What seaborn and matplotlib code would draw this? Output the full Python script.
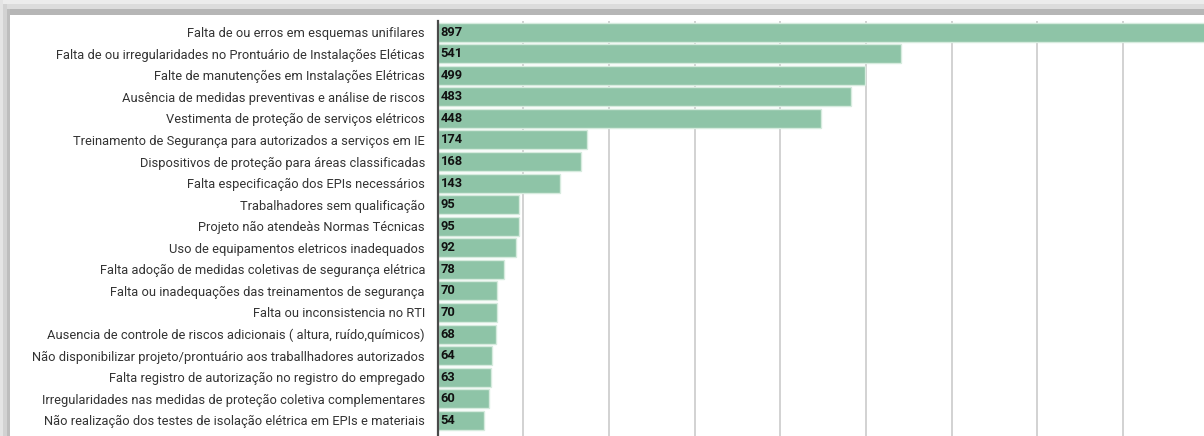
import matplotlib
matplotlib.use("Agg")
import matplotlib.pyplot as plt
import matplotlib.transforms as mtransforms
from matplotlib.patches import Rectangle
import seaborn as sns
import pandas as pd

categories = [
    "Falta de ou erros em esquemas unifilares",
    "Falta de ou irregularidades no Prontuário de Instalações Eléticas",
    "Falte de manutenções em Instalações Elétricas",
    "Ausência de medidas preventivas e análise de riscos",
    "Vestimenta de proteção de serviços elétricos",
    "Treinamento de Segurança para autorizados a serviços em IE",
    "Dispositivos de proteção para áreas classificadas",
    "Falta especificação dos EPIs necessários",
    "Trabalhadores sem qualificação",
    "Projeto não atendeàs Normas Técnicas",
    "Uso de equipamentos eletricos inadequados",
    "Falta adoção de medidas coletivas de segurança elétrica",
    "Falta ou inadequações das treinamentos de segurança",
    "Falta ou inconsistencia no RTI",
    "Ausencia de controle de riscos adicionais ( altura, ruído,químicos)",
    "Não disponibilizar projeto/prontuário aos traballhadores autorizados",
    "Falta registro de autorização no registro do empregado",
    "Irregularidades nas medidas de proteção coletiva complementares",
    "Não realização dos testes de isolação elétrica em EPIs e materiais",
]
values = [897, 541, 499, 483, 448, 174, 168, 143, 95, 95, 92, 78, 70, 70, 68, 64, 63, 60, 54]

sns.set_style("white")
plt.rcParams["font.family"] = ["Roboto", "DejaVu Sans"]

W, H = 1204, 436
fig = plt.figure(figsize=(W / 100, H / 100), dpi=100, facecolor="white")

# window shadow frame (top and left)
def frect(x0, y0, w, h, c):
    fig.patches.append(Rectangle((x0 / W, 1 - (y0 + h) / H), w / W, h / H,
                                 transform=fig.transFigure, facecolor=c,
                                 edgecolor="none", zorder=-5))

frect(0, 0, W, 4, "#ececec")
frect(0, 4, W, 5, "#dcdcdc")
frect(0, 9, W, 6, "#b6b6b6")
frect(0, 0, 3, H, "#e4e4e4")
frect(3, 4, 4, H, "#d2d2d2")
frect(7, 9, 3, H, "#bdbdbd")

px = 0.8569
left = 437.5
top = 21.4
ax = fig.add_axes([left / W, 0, 900 * px / W, (H - top) / H])

df = pd.DataFrame({"cat": categories, "val": values})
sns.barplot(data=df, y="cat", x="val", orient="h", color="#8ec4a7",
            saturation=1, width=0.88, edgecolor="#d6ebde", linewidth=1.0,
            ax=ax, zorder=2)

ax.set_xlim(0, 900)
ax.set_ylim(18.73, -0.5)
ax.set_xticks(range(100, 900, 100))
ax.grid(axis="x", color="#cfcfcf", linewidth=1.3, zorder=0)
ax.set_axisbelow(True)
ax.set_xlabel("")
ax.set_ylabel("")
ax.tick_params(axis="x", bottom=False, labelbottom=False)
ax.tick_params(axis="y", left=False, pad=5.5, labelsize=9.3, labelcolor="#333333")
for s in ["top", "right", "bottom"]:
    ax.spines[s].set_visible(False)
ax.spines["left"].set_color("#4a4a4a")
ax.spines["left"].set_linewidth(1.6)
ax.spines["left"].set_zorder(5)

off = mtransforms.offset_copy(ax.transData, fig=fig, x=3, y=0, units="dots")
for i, v in enumerate(values):
    ax.text(0, i, str(v), transform=off, ha="left", va="center",
            fontsize=9.3, fontweight="bold", color="#111111", zorder=6)

fig.savefig("out.png", dpi=100, facecolor="white")
